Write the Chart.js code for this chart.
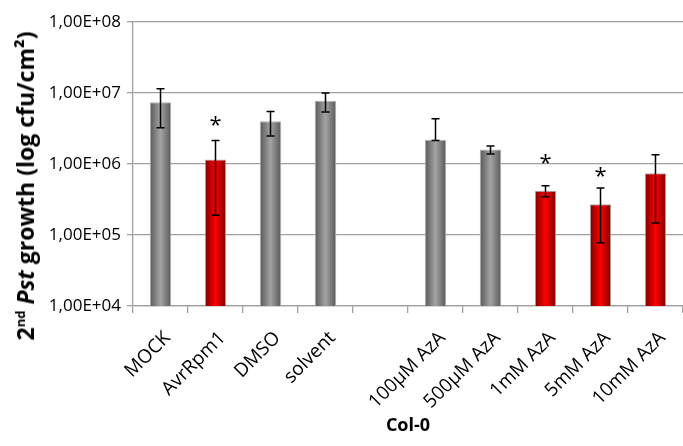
<!DOCTYPE html>
<html>
<head>
<meta charset="utf-8">
<script src="https://cdn.jsdelivr.net/npm/chart.js@4"></script>
<style>
  body { margin: 0; background: #fff; }
  #wrap { position: relative; width: 683px; height: 446px; }
  #ytitle {
    position: absolute; left: 25px; top: 186px;
    transform: translate(-50%, -50%) rotate(-90deg);
    white-space: nowrap;
    font: bold 23px "Open Sans", sans-serif; color: #000;
  }
  #ytitle sup { font-size: 13px; }
</style>
</head>
<body>
<div id="wrap">
  <canvas id="chart" width="683" height="446"></canvas>
  <div id="ytitle">2<sup>nd</sup> <i>Pst</i> growth (log cfu/cm²)</div>
</div>
<script>
var labels = ['MOCK', 'AvrRpm1', 'DMSO', 'solvent', '', '100µM AzA', '500µM AzA', '1mM AzA', '5mM AzA', '10mM AzA']
var values = [7.4e6, 1.16e6, 4.0e6, 7.8e6, null, 2.2e6, 1.6e6, 4.2e5, 2.7e5, 7.4e5]
var errHigh = [1.15e7, 2.15e6, 5.5e6, 1.0e7, null, 4.35e6, 1.8e6, 4.95e5, 4.6e5, 1.35e6]
var errLow = [3.25e6, 1.9e5, 2.48e6, 5.4e6, null, 2.15e6, 1.38e6, 3.46e5, 7.8e4, 1.48e5]
var stars = [null, 3.9e6, null, null, null, null, null, 1.14e6, 7.5e5, null]
var barType = ['g', 'r', 'g', 'g', '', 'g', 'g', 'r', 'r', 'r']
var tickValues = [1e4, 1e5, 1e6, 1e7, 1e8]
var tickLabels = ['1,00E+04', '1,00E+05', '1,00E+06', '1,00E+07', '1,00E+08']

var barPct = 0.39

function barFill(c) {
  var t = barType[c.dataIndex]
  var edge = t == 'r' ? '#7a0000' : '#585858'
  var mid = t == 'r' ? '#ff0000' : '#a3a3a3'
  var xs = c.chart.scales.x
  if (!xs || c.type !== 'data') return mid
  var x = xs.getPixelForValue(c.dataIndex)
  var w = xs.width / labels.length * barPct
  if (!isFinite(x) || !isFinite(w) || w <= 0) return mid
  var g = c.chart.ctx.createLinearGradient(x - w / 2, 0, x + w / 2, 0)
  g.addColorStop(0, edge)
  g.addColorStop(0.5, mid)
  g.addColorStop(1, edge)
  return g
}

// error bars, asterisks and the slanted category labels
var extras = {
  id: 'extras',
  afterDatasetsDraw: function(chart) {
    var ctx = chart.ctx
    var xs = chart.scales.x, ys = chart.scales.y
    ctx.save()
    ctx.strokeStyle = '#000'
    ctx.lineWidth = 1.5
    for (var i = 0; i < labels.length; i++) {
      if (errHigh[i] == null) continue
      var x = xs.getPixelForValue(i)
      var yt = ys.getPixelForValue(errHigh[i])
      var yb = ys.getPixelForValue(errLow[i])
      ctx.beginPath()
      ctx.moveTo(x, yt); ctx.lineTo(x, yb)
      ctx.moveTo(x - 4, yt); ctx.lineTo(x + 4, yt)
      ctx.moveTo(x - 4, yb); ctx.lineTo(x + 4, yb)
      ctx.stroke()
    }
    ctx.fillStyle = '#000'
    ctx.font = '22px "Open Sans", sans-serif'
    ctx.textAlign = 'center'
    ctx.textBaseline = 'middle'
    for (var j = 0; j < stars.length; j++) {
      if (stars[j] == null) continue
      ctx.fillText('*', xs.getPixelForValue(j), ys.getPixelForValue(stars[j]) + 4)
    }
    ctx.font = '19px "Open Sans", sans-serif'
    ctx.textAlign = 'right'
    for (var k = 0; k < labels.length; k++) {
      ctx.save()
      ctx.translate(xs.getPixelForValue(k) + 7, ys.bottom + 29)
      ctx.rotate(-Math.PI / 4)
      ctx.fillText(labels[k], 0, 0)
      ctx.restore()
    }
    ctx.restore()
  }
}

var ctx = document.getElementById('chart').getContext('2d')
var myChart = new Chart(ctx, {
  type: 'bar',
  data: {
    labels: labels,
    datasets: [{
      data: values,
      backgroundColor: barFill,
      borderColor: '#b0b0b0',
      borderWidth: 1,
      barPercentage: barPct,
      categoryPercentage: 1
    }]
  },
  options: {
    responsive: false,
    animation: false,
    layout: { padding: { top: 22, right: 0, bottom: 0, left: 0 } },
    plugins: {
      legend: { display: false },
      tooltip: { enabled: false }
    },
    scales: {
      y: {
        type: 'logarithmic',
        min: 1e4,
        max: 1e8,
        afterFit: function(s) { s.width = 133 },
        afterBuildTicks: function(s) {
          s.ticks = tickValues.map(function(v) { return { value: v } })
        },
        ticks: {
          color: '#000',
          padding: 6,
          font: { family: 'Open Sans', size: 17 },
          callback: function(v) { return tickLabels[tickValues.indexOf(v)] }
        },
        grid: { color: '#a0a0a0', lineWidth: 1.3, tickLength: 6 },
        border: { color: '#a0a0a0', width: 1.3 }
      },
      x: {
        afterFit: function(s) { s.height = 140 },
        ticks: { display: false },
        grid: { drawOnChartArea: false, offset: true, color: '#a0a0a0', lineWidth: 1.3, tickLength: 7 },
        border: { color: '#a0a0a0', width: 1.3 },
        title: {
          display: true,
          text: 'Col-0',
          color: '#000',
          padding: { top: 4, bottom: 9 },
          font: { family: 'Open Sans', size: 18, weight: 'bold' }
        }
      }
    }
  },
  plugins: [extras]
})
</script>
</body>
</html>
